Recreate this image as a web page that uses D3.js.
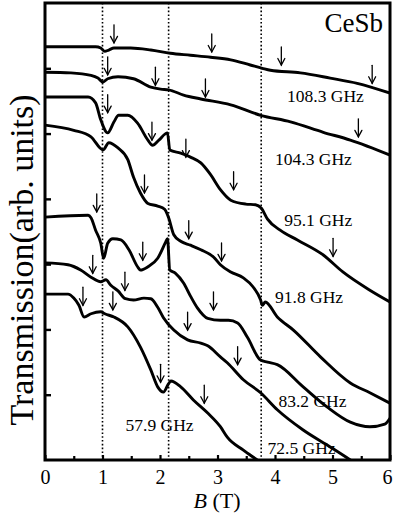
<!DOCTYPE html>
<html>
<head>
<meta charset="utf-8">
<script src="https://cdn.jsdelivr.net/npm/d3@7"></script>
<style>
  html, body { margin: 0; padding: 0; background: #fff; }
  svg { display: block; font-family: "Liberation Serif", "Times New Roman", serif; }
</style>
</head>
<body>
<svg id="chart" width="393" height="525"></svg>
<script>
// ---- Data: magnetic field B (T) and transmission (arb. units), one pair per frequency ----
const frequencies = ["108.3 GHz", "104.3 GHz", "95.1 GHz", "91.8 GHz", "83.2 GHz", "72.5 GHz", "57.9 GHz"];

const field1083 = [0, 0.45, 0.88, 0.97, 1.04, 1.11, 1.20, 1.49, 1.84, 2.18, 2.53, 2.88, 3.23, 3.57, 3.78, 3.92, 4.44, 4.96, 5.43, 6.0];
const trans1083 = [6.33, 6.33, 6.33, 6.31, 6.26, 6.28, 6.31, 6.31, 6.28, 6.23, 6.20, 6.17, 6.13, 6.05, 6.00, 5.97, 5.93, 5.85, 5.77, 5.62];

const field1043 = [0, 0.45, 0.80, 0.92, 1.01, 1.09, 1.27, 1.54, 1.84, 2.01, 2.15, 2.41, 2.71, 3.23, 3.75, 4.27, 4.84, 5.31, 6.0];
const trans1043 = [5.94, 5.93, 5.89, 5.85, 5.79, 5.84, 5.87, 5.84, 5.71, 5.68, 5.67, 5.59, 5.53, 5.44, 5.28, 5.18, 5.02, 4.90, 4.67];

const field951 = [0, 0.75, 0.88, 0.97, 1.09, 1.20, 1.28, 1.44, 1.61, 1.79, 1.87, 1.98, 2.13, 2.17, 2.36, 2.53, 2.71, 2.88, 3.05, 3.23, 3.49, 3.66, 3.76, 3.87, 4.09, 4.39, 4.84, 5.18, 5.65, 6.0];
const trans951 = [5.56, 5.56, 5.47, 5.21, 5.01, 5.18, 5.28, 5.28, 5.16, 4.90, 4.82, 4.90, 5.01, 4.75, 4.70, 4.64, 4.55, 4.37, 4.14, 3.98, 3.92, 3.91, 3.86, 3.69, 3.52, 3.37, 3.14, 2.88, 2.60, 2.42];

const field918 = [0, 0.50, 0.80, 1.01, 1.11, 1.27, 1.44, 1.54, 1.66, 1.79, 1.96, 2.08, 2.15, 2.24, 2.36, 2.53, 2.71, 2.93, 3.05, 3.23, 3.45, 3.62, 3.75, 3.78, 3.83, 4.04, 4.32, 4.79, 5.31, 5.65, 6.0];
const trans918 = [5.13, 5.05, 4.95, 4.75, 4.86, 4.78, 4.60, 4.33, 4.09, 3.93, 3.89, 3.84, 3.71, 3.45, 3.35, 3.29, 3.22, 3.11, 2.99, 2.88, 2.79, 2.65, 2.45, 2.37, 2.42, 2.19, 1.99, 1.58, 1.18, 1.03, 0.87];

const field832 = [0, 0.75, 0.80, 0.88, 0.97, 1.02, 1.09, 1.18, 1.32, 1.46, 1.61, 1.66, 1.79, 1.96, 2.10, 2.13, 2.17, 2.27, 2.41, 2.53, 2.65, 2.83, 3.05, 3.19, 3.35, 3.52, 3.75, 3.87, 4.04, 4.49, 4.91, 5.31, 5.65, 5.91, 6.0];
const trans832 = [3.72, 3.75, 3.71, 3.52, 3.32, 3.09, 3.32, 3.39, 3.37, 3.22, 2.96, 2.91, 2.96, 3.09, 3.34, 3.39, 2.91, 2.86, 2.71, 2.51, 2.33, 2.17, 2.14, 2.14, 2.10, 1.88, 1.53, 1.50, 1.46, 1.12, 0.81, 0.58, 0.51, 0.55, 0.64];

const field725 = [0, 0.40, 0.62, 0.80, 0.97, 1.06, 1.14, 1.27, 1.40, 1.54, 1.72, 1.84, 1.96, 2.06, 2.24, 2.48, 2.71, 2.83, 3.05, 3.17, 3.45, 3.75, 4.04, 4.49, 4.96, 5.31, 5.51];
const trans725 = [3.02, 2.99, 2.91, 2.80, 2.73, 2.76, 2.68, 2.59, 2.47, 2.45, 2.48, 2.47, 2.34, 2.18, 1.99, 1.84, 1.79, 1.75, 1.58, 1.49, 1.23, 1.03, 0.77, 0.46, 0.20, 0.00, -0.12];

const field579 = [0, 0.40, 0.50, 0.59, 0.68, 0.80, 0.97, 1.04, 1.20, 1.44, 1.66, 1.84, 1.96, 2.06, 2.15, 2.19, 2.36, 2.58, 2.83, 3.05, 3.17, 3.45, 3.69, 3.88];
const trans579 = [2.54, 2.54, 2.48, 2.37, 2.19, 2.24, 2.27, 2.24, 2.19, 2.04, 1.73, 1.38, 1.12, 1.04, 1.17, 1.21, 1.12, 0.92, 0.72, 0.51, 0.35, 0.15, 0.00, -0.12];

// Resonance markers: field position and transmission level at the arrow tip
const arrowField1083 = [1.20, 2.90, 4.11, 5.69];
const arrowTip1083   = [6.39, 6.25, 6.05, 5.77];
const arrowField1043 = [1.09, 1.92, 2.79, 5.45];
const arrowTip1043   = [5.90, 5.74, 5.56, 4.95];
const arrowField951  = [1.09, 1.86, 2.45, 3.28, 5.01];
const arrowTip951    = [5.32, 4.90, 4.64, 4.14, 3.12];
const arrowField918  = [1.73, 2.50, 3.07];
const arrowTip918    = [4.09, 3.39, 3.05];
const arrowField832  = [0.90, 1.70, 2.93];
const arrowTip832    = [3.80, 3.06, 2.30];
const arrowField725  = [0.83, 1.39, 2.48, 3.35];
const arrowTip725    = [2.86, 2.60, 1.99, 1.46];
const arrowField579  = [0.66, 1.18, 2.01, 2.77];
const arrowTip579    = [2.37, 2.30, 1.19, 0.87];

// Label anchors (left edge / baseline) in data units
const labelField = [4.21, 4.00, 4.16, 4.00, 4.06, 3.87, 1.40];
const labelLevel = [5.48, 4.52, 3.58, 2.40, 0.81, 0.09, 0.44];

// Phase-boundary fields marked by dotted lines
const boundaryFields = [1.0, 2.15, 3.76];

const xTicks = [0, 1, 2, 3, 4, 5, 6];
const xMinorTicks = [0.5, 1.5, 2.5, 3.5, 4.5, 5.5];
const yTicks = [1, 2, 3, 4, 5, 6];

// ---- Assemble series ----
const fields = [field1083, field1043, field951, field918, field832, field725, field579];
const trans  = [trans1083, trans1043, trans951, trans918, trans832, trans725, trans579];
const arrowFields = [arrowField1083, arrowField1043, arrowField951, arrowField918, arrowField832, arrowField725, arrowField579];
const arrowTips   = [arrowTip1083, arrowTip1043, arrowTip951, arrowTip918, arrowTip832, arrowTip725, arrowTip579];

const series = frequencies.map((f, i) => ({
  name: f,
  points: fields[i].map((b, j) => ({ b, t: trans[i][j] })),
  arrows: arrowFields[i].map((b, j) => ({ b, t: arrowTips[i][j] })),
  label: { b: labelField[i], t: labelLevel[i] }
}));

// ---- Layout ----
const svg = d3.select("#chart");
const plotLeft = 45, plotRight = 390, plotTop = 3, plotBottom = 460;

const x = d3.scaleLinear().domain([0, 6]).range([plotLeft, plotRight]);
const y = d3.scaleLinear().domain([0, 7]).range([plotBottom, plotTop]);

svg.append("defs").append("clipPath").attr("id", "plotClip")
  .append("rect").attr("x", plotLeft).attr("y", plotTop)
  .attr("width", plotRight - plotLeft).attr("height", plotBottom - plotTop);

// Dotted vertical guides
svg.append("g").selectAll("line").data(boundaryFields).join("line")
  .attr("x1", d => x(d)).attr("x2", d => x(d))
  .attr("y1", plotTop).attr("y2", plotBottom)
  .attr("stroke", "#000").attr("stroke-width", 1.6)
  .attr("stroke-dasharray", "1.6 2.2");

// Curves
const line = d3.line().x(d => x(d.b)).y(d => y(d.t)).curve(d3.curveMonotoneX);
const plot = svg.append("g").attr("clip-path", "url(#plotClip)");
plot.selectAll("path.trace").data(series).join("path")
  .attr("class", "trace")
  .attr("d", d => line(d.points))
  .attr("fill", "none").attr("stroke", "#000")
  .attr("stroke-width", 2.9).attr("stroke-linejoin", "round").attr("stroke-linecap", "round");

// Resonance arrows
const arrowLen = 18;
const arrowG = svg.append("g").attr("stroke", "#000").attr("fill", "none")
  .attr("stroke-width", 1.3).attr("stroke-linecap", "round");
series.forEach(s => {
  s.arrows.forEach(a => {
    const tx = x(a.b), ty = y(a.t);
    arrowG.append("line").attr("x1", tx).attr("x2", tx).attr("y1", ty - arrowLen).attr("y2", ty);
    arrowG.append("path").attr("d", `M${tx - 3.5},${ty - 6.5}L${tx},${ty}L${tx + 3.5},${ty - 6.5}`);
  });
});

// Frequency labels
svg.append("g").selectAll("text").data(series).join("text")
  .attr("x", d => x(d.label.b)).attr("y", d => y(d.label.t))
  .attr("font-size", 17.5).attr("fill", "#000")
  .text(d => d.name);

// Axes (ticks point inward)
const xAxis = svg.append("g").attr("transform", `translate(0,${plotBottom})`)
  .call(d3.axisBottom(x).tickValues(xTicks).tickSize(-5).tickPadding(10).tickFormat(d3.format("d")));
xAxis.select(".domain").remove();
xAxis.selectAll(".tick line").attr("stroke-width", 2.2);
xAxis.selectAll(".tick text").attr("font-size", 20).attr("font-family", "Liberation Serif, serif").attr("fill", "#000");
// keep the last label inside the page edge
xAxis.selectAll(".tick text").filter(d => d === 6).attr("dx", -3);

const xMinor = svg.append("g").attr("transform", `translate(0,${plotBottom})`)
  .call(d3.axisBottom(x).tickValues(xMinorTicks).tickSize(-4).tickFormat(""));
xMinor.select(".domain").remove();
xMinor.selectAll(".tick line").attr("stroke-width", 2.2);

const yAxis = svg.append("g").attr("transform", `translate(${plotLeft},0)`)
  .call(d3.axisLeft(y).tickValues(yTicks).tickSize(-6).tickFormat(""));
yAxis.select(".domain").remove();
yAxis.selectAll(".tick line").attr("stroke-width", 2.4);

// Frame
svg.append("rect")
  .attr("x", plotLeft).attr("y", plotTop)
  .attr("width", plotRight - plotLeft).attr("height", plotBottom - plotTop)
  .attr("fill", "none").attr("stroke", "#000").attr("stroke-width", 3);

// Sample name
svg.append("text").attr("x", x(5.88)).attr("y", y(6.56))
  .attr("text-anchor", "end").attr("font-size", 27).text("CeSb");

// Axis titles
const xTitle = svg.append("text").attr("x", 217).attr("y", 508)
  .attr("text-anchor", "middle").attr("font-size", 22);
xTitle.append("tspan").attr("font-style", "italic").text("B");
xTitle.append("tspan").text(" (T)");

svg.append("text")
  .attr("transform", "translate(33,260) rotate(-90)")
  .attr("text-anchor", "middle").attr("font-size", 34)
  .text("Transmission(arb. units)");
</script>
</body>
</html>
